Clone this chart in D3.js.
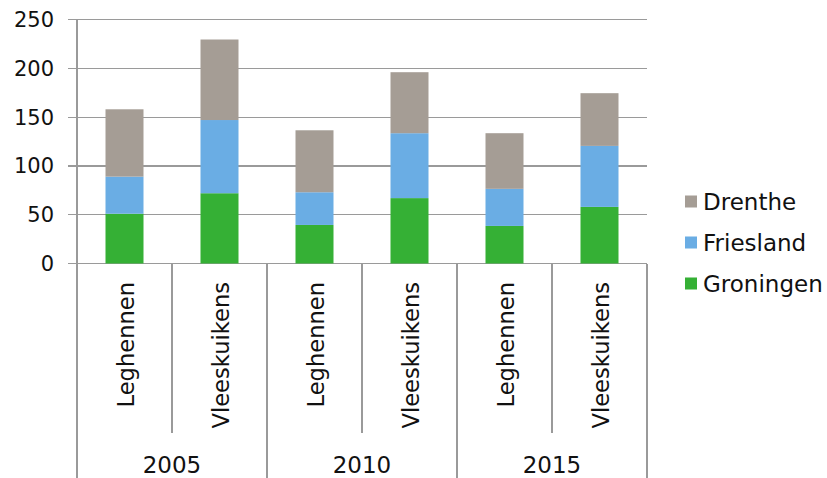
<!DOCTYPE html>
<html lang="nl">
<head>
    <meta charset="UTF-8">
    <title>Pluimvee per provincie</title>
    <script src="https://d3js.org/d3.v7.min.js"></script>
    <style>
        body { margin: 0; background: #fff; }
        text { font-family: "DejaVu Sans", Verdana, sans-serif; fill: #111; }
        .grid line, .axis line { stroke: #9a9a9a; stroke-width: 1.2px; shape-rendering: crispEdges; }
    </style>
</head>
<body>
    <svg width="827" height="478"></svg>
    <script>
        // data
        const years = ["2005", "2010", "2015"];
        const types = ["Leghennen", "Vleeskuikens"];
        const provinces = ["Groningen", "Friesland", "Drenthe"];
        const groningen = [51, 72, 39.5, 67, 38.5, 58];
        const friesland = [38, 75, 33.5, 66.5, 38, 62.5];
        const drenthe = [69, 82.5, 63.5, 62.5, 57, 54];
        const yTicks = [0, 50, 100, 150, 200, 250];
        const colors = { Groningen: "#35b035", Friesland: "#6aade4", Drenthe: "#a59d95" };

        const rows = [];
        years.forEach((yr, i) => types.forEach((t, j) => {
            const k = i * types.length + j;
            rows.push({ key: yr + "|" + t, year: yr, type: t,
                Groningen: groningen[k], Friesland: friesland[k], Drenthe: drenthe[k] });
        }));

        const plotLeft = 77, plotRight = 647, plotTop = 19.5, plotBottom = 263.5;
        const svg = d3.select("svg");

        const x = d3.scaleBand().domain(rows.map(d => d.key)).range([plotLeft, plotRight]).paddingInner(0.6).paddingOuter(0.3);
        const xb = d3.scaleBand().domain(rows.map(d => d.key)).range([plotLeft, plotRight]);
        const y = d3.scaleLinear().domain([0, 250]).range([plotBottom, plotTop]);

        // gridlines
        svg.append("g").attr("class", "grid")
            .selectAll("line").data(yTicks).join("line")
            .attr("x1", plotLeft - 9).attr("x2", plotRight)
            .attr("y1", d => y(d)).attr("y2", d => y(d));

        // y labels
        svg.append("g").selectAll("text").data(yTicks).join("text")
            .attr("x", plotLeft - 23).attr("y", d => y(d)).attr("dy", "0.36em")
            .attr("text-anchor", "end").attr("font-size", 21).text(d => d);

        // vertical axis line
        svg.append("g").attr("class", "axis").append("line")
            .attr("x1", plotLeft).attr("x2", plotLeft).attr("y1", plotTop).attr("y2", plotBottom);

        // stacked bars
        const series = d3.stack().keys(provinces)(rows);
        svg.append("g").selectAll("g").data(series).join("g")
            .attr("fill", d => colors[d.key])
            .selectAll("rect").data(d => d).join("rect")
            .attr("x", d => x(d.data.key))
            .attr("width", x.bandwidth())
            .attr("y", d => y(d[1]))
            .attr("height", d => y(d[0]) - y(d[1]));

        // category axis separators
        const ax = svg.append("g").attr("class", "axis");
        const bounds = rows.map(d => xb(d.key)).concat([plotRight]);
        ax.selectAll("line.sep").data(bounds).join("line")
            .attr("class", "sep")
            .attr("x1", d => d).attr("x2", d => d)
            .attr("y1", plotBottom)
            .attr("y2", (d, i) => i % types.length === 0 ? 478 : 433);

        // type labels (rotated)
        svg.append("g").selectAll("text").data(rows).join("text")
            .attr("transform", d => `translate(${xb(d.key) + xb.bandwidth() / 2 + 1},282) rotate(-90)`)
            .attr("text-anchor", "end").attr("dy", "0.36em")
            .attr("font-size", 22.6).text(d => d.type);

        // year labels
        const gw = xb.bandwidth() * types.length;
        svg.append("g").selectAll("text").data(years).join("text")
            .attr("x", (d, i) => plotLeft + gw * i + gw / 2).attr("y", 473)
            .attr("text-anchor", "middle").attr("font-size", 23).text(d => d);

        // legend
        const legendItems = provinces.slice().reverse();
        const lg = svg.append("g").selectAll("g").data(legendItems).join("g")
            .attr("transform", (d, i) => `translate(685,${201.5 + i * 41})`);
        lg.append("rect").attr("x", 0).attr("y", -6).attr("width", 12).attr("height", 12)
            .attr("fill", d => colors[d]);
        lg.append("text").attr("x", 18).attr("dy", "0.36em").attr("font-size", 23).text(d => d);
    </script>
</body>
</html>
